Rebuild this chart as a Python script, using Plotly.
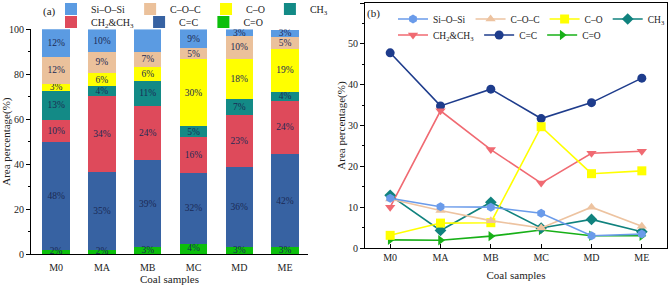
import plotly.graph_objects as go

# ---------------- data ----------------
samples = ["M0", "MA", "MB", "MC", "MD", "ME"]
si_o_si = [12.2, 10.1, 10.0, 8.5, 3.0, 3.4]
c_o_c = [12.0, 9.2, 6.7, 4.9, 10.0, 5.3]
c_o = [3.1, 6.1, 6.2, 29.7, 18.2, 18.9]
ch3 = [12.9, 4.3, 11.2, 4.9, 7.0, 4.0]
ch2_ch3 = [10.0, 33.6, 24.1, 15.9, 23.2, 23.7]
c_eq_c = [47.8, 34.8, 38.9, 31.7, 35.6, 41.6]
c_eq_o = [2.0, 1.9, 2.9, 4.4, 3.0, 3.0]

W, H = 668, 285
FONT = "Liberation Serif"
LABEL_COLOR = "#1B2A55"


def px(x):
    return x / W


def py(y):
    return (H - y) / H


# name, values, bar colour, line colour, marker symbol, legend (bars), legend (lines), rank
series = [
    ("C=O", c_eq_o, "#0CBF0C", "#17B017", "triangle-right", "legend2", "legend4", 7),
    ("C=C", c_eq_c, "#3762A2", "#1E3C8C", "circle", "legend2", "legend4", 6),
    ("CH<sub>2</sub>&CH<sub>3</sub>", ch2_ch3, "#DE4A5B", "#F06A72", "triangle-down", "legend2", "legend4", 5),
    ("CH<sub>3</sub>", ch3, "#138A86", "#10827E", "diamond", "legend", "legend3", 4),
    ("C–O", c_o, "#FFFF00", "#FFFF00", "square", "legend", "legend3", 3),
    ("C–O–C", c_o_c, "#EBC19B", "#EDC3A0", "triangle-up", "legend", "legend3", 2),
    ("Si–O–Si", si_o_si, "#5B9BE2", "#6A9BEA", "hexagon", "legend", "legend3", 1),
]

fig = go.Figure()

# stacked bars (panel a)
for i, (name, vals, bc, lc, sym, lg_a, lg_b, rank) in enumerate(series):
    bottom = (i == 0)
    fig.add_trace(go.Bar(
        x=samples, y=vals, name=name,
        marker=dict(color=bc, line=dict(width=0)),
        width=0.6,
        texttemplate=None if bottom else "%{y:.0f}%",
        textposition="none" if bottom else "inside",
        insidetextanchor="middle",
        textangle=0, constraintext="none",
        textfont=dict(family=FONT, size=9.5, color=LABEL_COLOR),
        xaxis="x", yaxis="y",
        legend=lg_a, legendrank=rank,
        hoverinfo="skip",
    ))

# labels of the thin bottom (C=O) segments, drawn above the bars
fig.add_trace(go.Scatter(
    x=samples, y=[v / 2 for v in c_eq_o],
    text=[f"{v:.0f}%" for v in c_eq_o],
    mode="text", textposition="middle center",
    textfont=dict(family=FONT, size=9.5, color=LABEL_COLOR),
    cliponaxis=False, showlegend=False, hoverinfo="skip",
    xaxis="x", yaxis="y",
))

# lines (panel b)
for name, vals, bc, lc, sym, lg_a, lg_b, rank in series:
    fig.add_trace(go.Scatter(
        x=samples, y=vals, name=name, mode="lines+markers",
        line=dict(color=lc, width=1.6),
        marker=dict(symbol=sym, size=9, color=lc),
        xaxis="x2", yaxis="y2",
        legend=lg_b, legendrank=rank,
        hoverinfo="skip",
    ))

axis_common = dict(
    showgrid=False, zeroline=False, showline=True, linecolor="black", linewidth=1,
    tickfont=dict(family=FONT, size=10, color="#222"),
    automargin=False,
)

legend_common = dict(
    orientation="h", bgcolor="rgba(0,0,0,0)", borderwidth=0,
    xanchor="left", yanchor="middle", tracegroupgap=0, itemclick=False,
    traceorder="normal",
)
font_a = dict(family=FONT, size=10, color="#222")
font_b = dict(family=FONT, size=9.5, color="#222")

fig.update_layout(
    width=W, height=H,
    margin=dict(l=0, r=0, t=0, b=0, autoexpand=False),
    paper_bgcolor="white", plot_bgcolor="white",
    barmode="stack",
    font=dict(family=FONT, size=10, color="#222"),
    showlegend=True,
    xaxis=dict(
        domain=[px(31), px(308)], anchor="y",
        range=[-0.55, 5.5], ticks="", ticklen=0, ticklabelstandoff=4,
        **axis_common,
        title=dict(text="Coal samples", font=dict(family=FONT, size=11), standoff=9),
    ),
    yaxis=dict(
        domain=[py(254), py(29.3)], anchor="x",
        range=[0, 100], dtick=20, ticks="outside", ticklen=4, tickcolor="black",
        minor=dict(dtick=10, ticks="outside", ticklen=2, tickcolor="black"),
        **axis_common,
        title=dict(text="Area percentage(%)", font=dict(family=FONT, size=11), standoff=3),
    ),
    xaxis2=dict(
        domain=[px(365), px(667)], anchor="y2",
        range=[-0.5, 5.5], ticks="inside", ticklen=4, tickcolor="black",
        mirror=True,
        **axis_common,
        title=dict(text="Coal samples", font=dict(family=FONT, size=11), standoff=9),
    ),
    yaxis2=dict(
        domain=[py(248), py(3)], anchor="x2",
        range=[0, 60], dtick=10, ticks="outside", ticklen=4, tickcolor="black",
        minor=dict(dtick=5, ticks="outside", ticklen=2, tickcolor="black"),
        mirror=True,
        **axis_common,
        title=dict(text="Area percentage(%)", font=dict(family=FONT, size=11), standoff=0),
    ),
    legend=dict(x=px(51), y=py(9), font=font_a, **legend_common),
    legend2=dict(x=px(51), y=py(22), font=font_a, **legend_common),
    legend3=dict(x=px(393), y=py(19), font=font_b, **legend_common),
    legend4=dict(x=px(393), y=py(35), font=font_b, **legend_common),
    annotations=[
        dict(text="(a)", x=px(50), y=py(11), xref="paper", yref="paper",
             xanchor="center", yanchor="middle",
             showarrow=False, font=dict(family=FONT, size=11, color="#222")),
        dict(text="(b)", x=px(373), y=py(13), xref="paper", yref="paper",
             xanchor="center", yanchor="middle",
             showarrow=False, font=dict(family=FONT, size=11, color="#222")),
    ],
)

fig.write_html(
    "out.html",
    config={"displayModeBar": False, "staticPlot": False},
    post_script="document.body.style.margin='0px';",
)
